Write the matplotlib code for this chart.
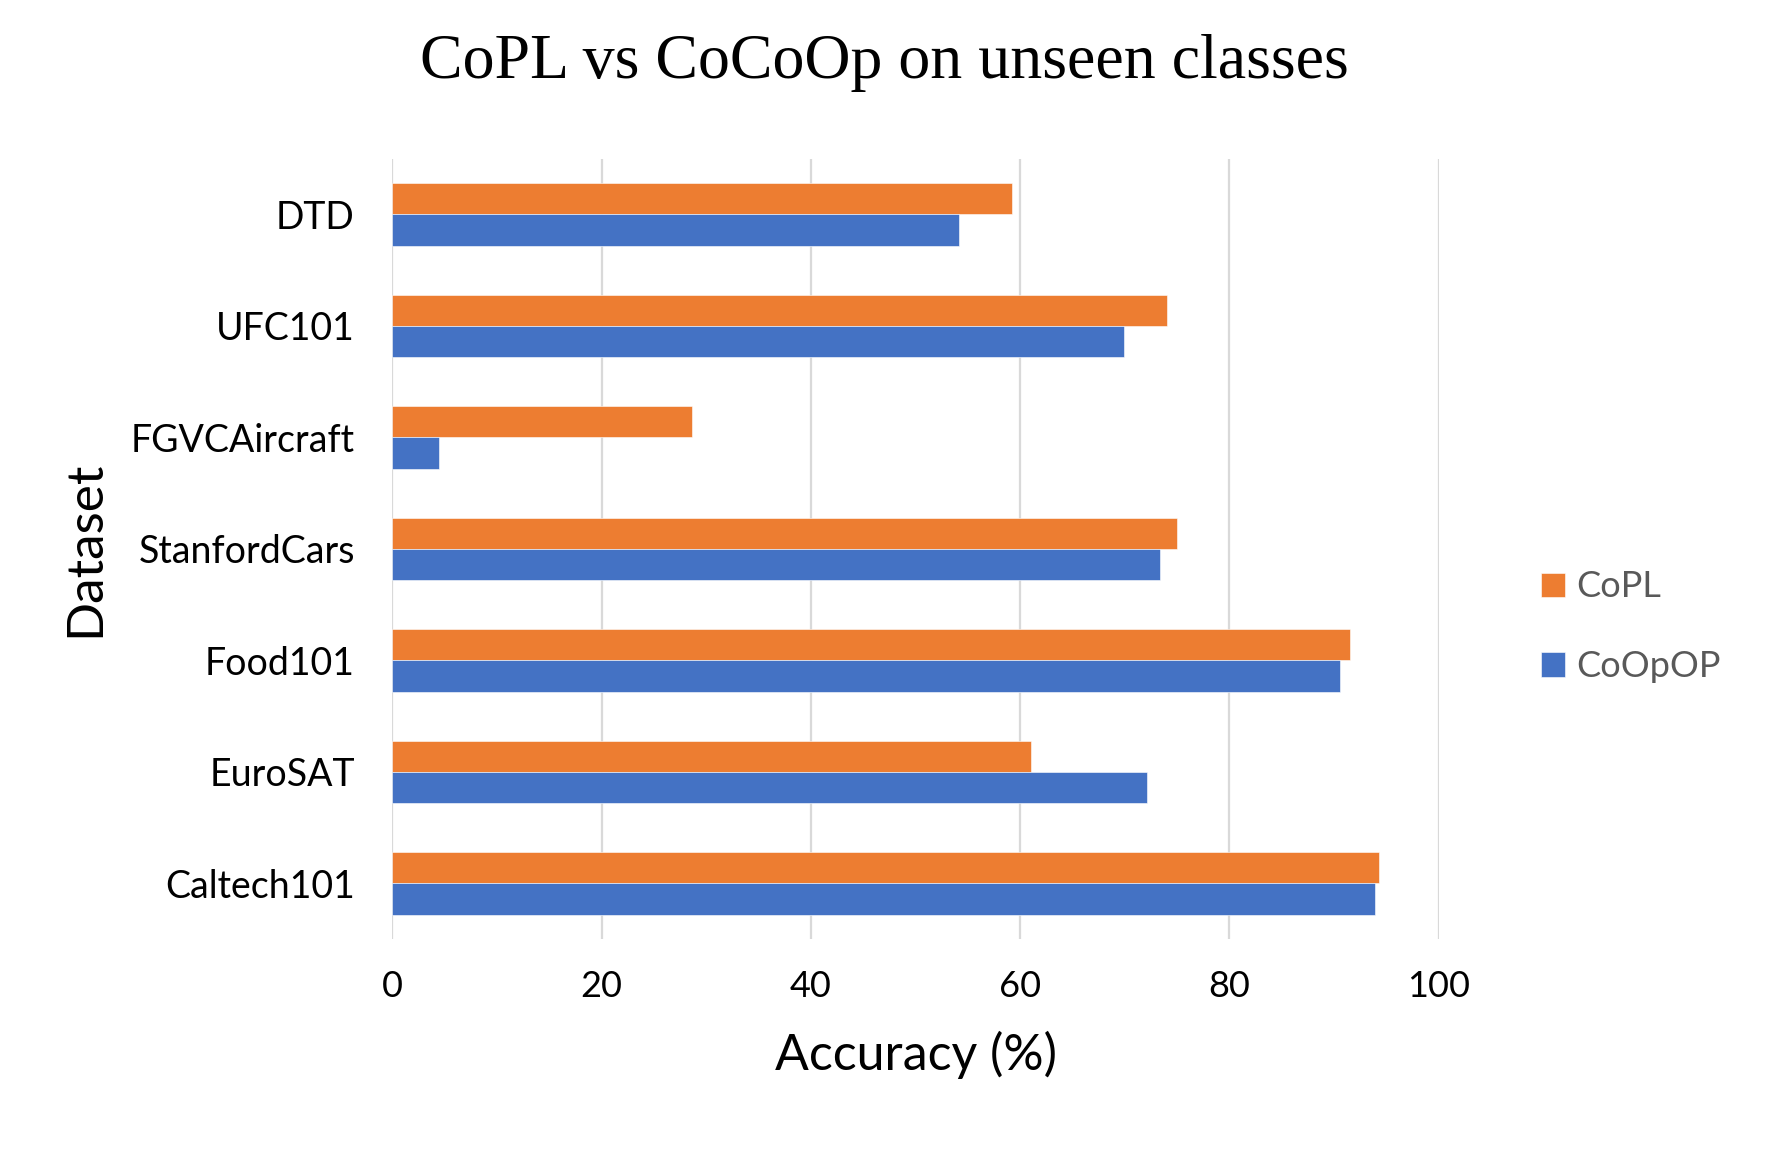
import numpy as np
import matplotlib
matplotlib.use("Agg")
import matplotlib.pyplot as plt

# data, bottom to top as drawn
datasets = ["Caltech101", "EuroSAT", "Food101", "StanfordCars", "FGVCAircraft", "UFC101", "DTD"]
copl = [94.3, 61.0, 91.5, 75.0, 28.6, 74.0, 59.2]
cocoop = [93.9, 72.1, 90.6, 73.4, 4.5, 69.9, 54.2]
xticks = [0, 20, 40, 60, 80, 100]

orange = "#ED7D31"
blue = "#4472C4"

fig = plt.figure(figsize=(17.69, 11.5), dpi=100)
ax = fig.add_axes([0.2218, 0.1834, 0.5915, 0.6786])

y = np.arange(len(datasets))
h = 0.28
ax.barh(y + h / 2, copl, height=h, color=orange, edgecolor="white", linewidth=0.4, label="CoPL", zorder=3)
ax.barh(y - h / 2, cocoop, height=h, color=blue, edgecolor="white", linewidth=0.4, label="CoOpOP", zorder=3)

ax.set_xlim(0, 100)
ax.set_ylim(-0.5, len(datasets) - 0.5)
ax.set_xticks(xticks)
ax.set_yticks(y)
ax.set_yticklabels(datasets)
ax.grid(axis="x", color="#D9D9D9", linewidth=1.6, zorder=0)
ax.set_axisbelow(True)
for s in ax.spines.values():
    s.set_visible(False)
ax.tick_params(axis="y", length=0, labelsize=27, pad=27)
ax.tick_params(axis="x", length=0, labelsize=26, pad=22)
for lab in ax.get_xticklabels() + ax.get_yticklabels():
    lab.set_family("Lato")

ax.set_xlabel("Accuracy (%)", fontsize=36, family="Lato", labelpad=20)
ax.set_ylabel("Dataset", fontsize=37, family="Lato", labelpad=16)

fig.text(0.5, 0.945, "CoPL vs CoCoOp on unseen classes", ha="center", va="center",
         fontsize=46, family="Liberation Serif")

leg = fig.legend(loc="center left", bbox_to_anchor=(0.853, 0.455), frameon=False,
                 prop={"family": "Lato", "size": 26}, handlelength=0.65, handleheight=0.65,
                 handletextpad=0.3, labelspacing=1.3)
for t in leg.get_texts():
    t.set_color("#595959")

plt.savefig("out.png", dpi=100)
